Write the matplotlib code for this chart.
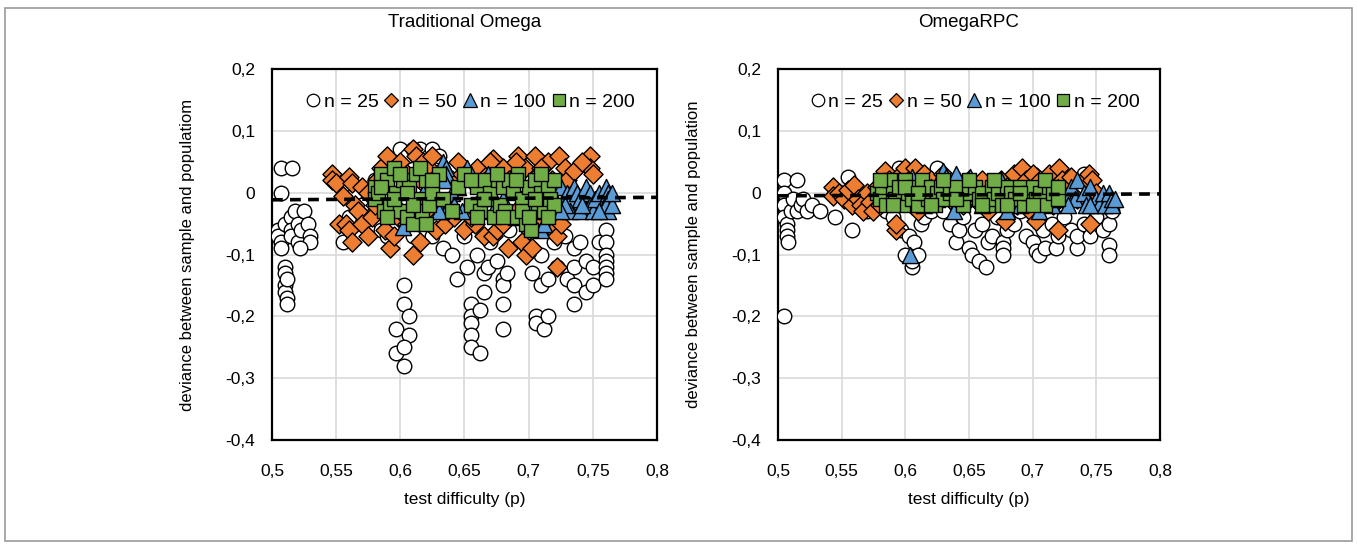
import numpy as np
import matplotlib
matplotlib.use('Agg')
import matplotlib.pyplot as plt
from matplotlib.ticker import FuncFormatter, MultipleLocator
from matplotlib.lines import Line2D
from matplotlib.patches import Rectangle

plt.rcParams['font.family'] = ['Liberation Sans', 'DejaVu Sans']

# ---- Traditional Omega (left) ----
l25_x = [0.507, 0.507, 0.505, 0.505, 0.507, 0.507, 0.51, 0.51, 0.51, 0.51, 0.51, 0.512, 0.512, 0.512,
         0.516, 0.515, 0.515, 0.515, 0.518, 0.52, 0.52, 0.523, 0.525, 0.528, 0.53, 0.53, 0.522,
         0.555, 0.56, 0.565, 0.575, 0.57, 0.58, 0.585, 0.59,
         0.597, 0.597, 0.603, 0.603, 0.607, 0.607, 0.603, 0.603, 0.6, 0.605, 0.61, 0.595, 0.62, 0.615, 0.622, 0.625,
         0.61, 0.625, 0.63,
         0.633, 0.64, 0.644, 0.65, 0.652, 0.655, 0.655, 0.655, 0.655, 0.655, 0.655, 0.66, 0.662, 0.662, 0.665, 0.665, 0.668, 0.67,
         0.675, 0.68, 0.68, 0.68, 0.68, 0.683, 0.685, 0.69,
         0.7, 0.703, 0.706, 0.706, 0.71, 0.712, 0.715, 0.715, 0.71, 0.72, 0.722, 0.718,
         0.728, 0.73, 0.735, 0.735, 0.735, 0.735, 0.74, 0.745, 0.745, 0.75, 0.75, 0.755,
         0.76, 0.76, 0.76, 0.76, 0.76, 0.76, 0.76, 0.755]
l25_y = [0.04, 0.0, -0.06, -0.07, -0.08, -0.09, -0.05, -0.12, -0.13, -0.15, -0.16, -0.17, -0.18, -0.14,
         0.04, -0.04, -0.06, -0.07, -0.03, -0.05, -0.08, -0.06, -0.03, -0.05, -0.07, -0.08, -0.09,
         -0.08, -0.04, 0.0, -0.06, -0.02, 0.02, -0.06, -0.07,
         -0.22, -0.26, -0.15, -0.18, -0.2, -0.23, -0.25, -0.28, 0.07, 0.06, -0.07, -0.05, -0.06, 0.07, 0.06, -0.07,
         0.07, 0.07, 0.06,
         -0.09, -0.1, -0.14, -0.07, -0.12, -0.05, -0.18, -0.2, -0.21, -0.23, -0.25, -0.1, -0.19, -0.26, -0.16, -0.13, -0.12, -0.08,
         -0.11, -0.14, -0.15, -0.18, -0.22, -0.13, -0.06, -0.04,
         -0.05, -0.13, -0.2, -0.21, -0.15, -0.22, -0.2, -0.14, -0.1, -0.08, -0.12, -0.03,
         -0.07, -0.14, -0.18, -0.15, -0.12, -0.09, -0.08, -0.11, -0.16, -0.15, -0.12, -0.08,
         -0.06, -0.08, -0.1, -0.11, -0.12, -0.13, -0.14, -0.03]

l50_x = [0.547, 0.547, 0.55, 0.56, 0.562, 0.555, 0.565, 0.57, 0.572, 0.575, 0.552, 0.558, 0.56, 0.562,
         0.567, 0.57, 0.575, 0.578, 0.58, 0.582, 0.585, 0.59, 0.588, 0.592, 0.595, 0.598, 0.6, 0.605,
         0.605, 0.61, 0.61, 0.612, 0.615, 0.618, 0.62, 0.622, 0.625, 0.628, 0.63, 0.635, 0.64, 0.642,
         0.648, 0.65, 0.655, 0.658, 0.66, 0.665, 0.668, 0.672, 0.672, 0.675, 0.68, 0.684, 0.685, 0.69,
         0.692, 0.695, 0.697, 0.698, 0.703, 0.705, 0.708, 0.71, 0.715, 0.718, 0.72, 0.722, 0.722, 0.724,
         0.728, 0.73, 0.735, 0.74, 0.748, 0.748, 0.75, 0.735, 0.7, 0.66,
         0.6, 0.615, 0.63, 0.645, 0.655, 0.67, 0.68, 0.69, 0.7, 0.71, 0.725, 0.742]
l50_y = [0.03, 0.02, 0.015, 0.025, 0.015, -0.005, -0.02, 0.01, -0.04, 0.0, -0.05, -0.05, -0.06, -0.08,
         -0.03, -0.05, -0.07, -0.04, -0.02, 0.02, 0.04, 0.06, -0.06, -0.09, -0.07, -0.04, 0.05, 0.03,
         -0.05, 0.07, -0.1, 0.06, -0.08, 0.05, -0.03, 0.04, 0.06, -0.06, 0.03, -0.05, 0.02, -0.04,
         0.03, -0.06, 0.02, -0.05, 0.04, -0.07, 0.03, 0.055, -0.07, -0.06, 0.04, -0.09, 0.02, -0.03,
         0.06, -0.08, 0.04, -0.1, -0.09, 0.06, 0.03, -0.04, 0.05, 0.02, -0.06, -0.07, -0.12, 0.06,
         0.04, 0.02, 0.035, -0.02, 0.06, 0.04, 0.03, 0.0, 0.0, -0.02,
         -0.03, 0.02, -0.02, 0.05, -0.04, 0.05, -0.05, 0.05, -0.06, 0.04, -0.05, 0.05]

l100_x = [0.602, 0.61, 0.618, 0.625, 0.633, 0.636, 0.636, 0.634, 0.632, 0.638, 0.645, 0.648, 0.652,
          0.655, 0.66, 0.665, 0.668, 0.672, 0.68, 0.69, 0.7, 0.705, 0.71, 0.712, 0.718, 0.72, 0.725,
          0.73, 0.732, 0.732, 0.735, 0.738, 0.74, 0.74, 0.745, 0.748, 0.748, 0.75, 0.752, 0.755, 0.758,
          0.76, 0.762, 0.762, 0.762, 0.76,
          0.64, 0.642, 0.63, 0.728, 0.742, 0.755, 0.765, 0.765, 0.725]
l100_y = [-0.055, -0.03, 0.0, -0.01, 0.05, 0.04, 0.03, 0.02, -0.03, -0.02, 0.01, -0.03, 0.04,
          0.03, -0.02, 0.02, 0.03, -0.03, -0.01, -0.04, -0.02, -0.03, -0.06, -0.05, 0.0, -0.02, 0.01,
          0.0, -0.01, -0.03, 0.01, 0.0, -0.01, -0.03, 0.01, 0.0, -0.02, -0.03, -0.01, 0.0, -0.02,
          0.01, 0.0, -0.01, -0.03, -0.02,
          0.0, -0.02, -0.03, -0.02, -0.02, -0.03, -0.02, 0.0, -0.03]

l200_x = [0.58, 0.58, 0.583, 0.585, 0.587, 0.59, 0.592, 0.595, 0.597, 0.6, 0.602, 0.605, 0.607, 0.61,
          0.612, 0.615, 0.617, 0.62, 0.622, 0.625, 0.63, 0.633, 0.64, 0.645, 0.65, 0.655, 0.66, 0.662,
          0.665, 0.668, 0.67, 0.673, 0.676, 0.678, 0.68, 0.682, 0.685, 0.688, 0.69, 0.692, 0.695, 0.698,
          0.7, 0.702, 0.705, 0.707, 0.71, 0.712, 0.715, 0.717, 0.72, 0.72,
          0.585, 0.59, 0.595, 0.6, 0.605, 0.61, 0.615, 0.62, 0.625, 0.655, 0.66, 0.665, 0.675, 0.68,
          0.69, 0.695, 0.7, 0.705, 0.71, 0.715]
l200_y = [0.01, -0.01, 0.0, 0.03, -0.03, 0.02, -0.02, 0.04, 0.0, -0.03, 0.02, -0.04, 0.01, -0.05,
          0.03, -0.01, -0.03, 0.02, -0.02, 0.0, 0.03, -0.01, -0.03, 0.01, 0.03, -0.02, 0.01, -0.03,
          0.02, -0.01, 0.0, -0.04, 0.02, -0.02, 0.01, -0.03, 0.02, 0.0, -0.04, 0.03, -0.01, -0.05,
          0.01, -0.06, 0.02, -0.02, 0.0, -0.03, 0.01, -0.01, 0.02, -0.02,
          0.01, -0.04, -0.01, 0.03, 0.0, -0.02, 0.04, -0.05, 0.02, 0.02, -0.04, -0.01, 0.03, -0.04,
          0.02, -0.03, -0.04, -0.01, 0.03, -0.04]

# ---- OmegaRPC (right) ----
r25_x = [0.505, 0.505, 0.505, 0.505, 0.507, 0.507, 0.507, 0.508, 0.505, 0.51, 0.512, 0.515, 0.515, 0.518,
         0.52, 0.523, 0.527, 0.533, 0.545, 0.55, 0.555, 0.558, 0.565, 0.57, 0.58, 0.585, 0.59, 0.595,
         0.597, 0.6, 0.603, 0.605, 0.605, 0.607, 0.61, 0.612, 0.615, 0.62, 0.625, 0.63, 0.635, 0.64,
         0.642, 0.645, 0.65, 0.652, 0.655, 0.658, 0.66, 0.663, 0.665, 0.668, 0.672, 0.677, 0.677, 0.677,
         0.68, 0.685, 0.69, 0.695, 0.7, 0.703, 0.705, 0.708, 0.71, 0.715, 0.718, 0.72, 0.725, 0.73,
         0.735, 0.735, 0.74, 0.745, 0.75, 0.755, 0.76, 0.76, 0.76, 0.762, 0.7, 0.72, 0.74]
r25_y = [0.02, 0.0, -0.02, -0.04, -0.05, -0.06, -0.07, -0.08, -0.2, -0.03, -0.01, 0.02, -0.03, -0.02,
         -0.01, -0.03, -0.02, -0.03, -0.04, 0.0, 0.025, -0.06, -0.02, -0.03, 0.01, -0.03, -0.04, 0.04,
         -0.06, -0.1, -0.07, -0.12, -0.11, -0.08, -0.1, -0.05, -0.04, -0.03, 0.04, -0.03, -0.05, -0.08,
         -0.06, -0.04, -0.09, -0.1, -0.06, -0.11, -0.05, -0.12, -0.08, -0.07, -0.04, -0.08, -0.09, -0.1,
         -0.06, -0.05, -0.03, -0.07, -0.08, -0.095, -0.1, -0.06, -0.09, -0.05, -0.09, -0.07, -0.04, -0.06,
         -0.09, -0.07, -0.05, -0.07, -0.04, -0.06, -0.085, -0.1, -0.05, -0.03, 0.03, 0.03, 0.03]

r50_x = [0.543, 0.543, 0.548, 0.552, 0.555, 0.558, 0.56, 0.563, 0.565, 0.567, 0.57, 0.572, 0.575, 0.578,
         0.58, 0.584, 0.587, 0.59, 0.593, 0.593, 0.597, 0.6, 0.603, 0.605, 0.608, 0.61, 0.615, 0.62,
         0.625, 0.63, 0.635, 0.64, 0.645, 0.65, 0.655, 0.66, 0.665, 0.67, 0.675, 0.678, 0.68, 0.685,
         0.688, 0.692, 0.695, 0.698, 0.7, 0.703, 0.706, 0.71, 0.713, 0.716, 0.72, 0.721, 0.723, 0.727,
         0.73, 0.735, 0.74, 0.744, 0.745, 0.747, 0.75]
r50_y = [0.01, -0.005, 0.0, -0.01, 0.005, -0.02, 0.012, -0.01, -0.02, -0.03, 0.0, -0.015, -0.03, 0.01,
         -0.02, 0.035, 0.02, -0.01, -0.06, -0.05, 0.03, 0.04, 0.02, -0.02, 0.04, -0.03, 0.03, 0.02,
         0.0, 0.03, -0.01, 0.02, -0.02, 0.02, -0.01, 0.02, -0.03, 0.0, 0.02, -0.045, 0.01, 0.03,
         -0.02, 0.04, 0.02, -0.03, 0.03, -0.045, 0.02, 0.0, 0.03, -0.02, -0.06, 0.04, 0.02, 0.01,
         0.025, -0.01, 0.02, 0.03, -0.05, 0.02, 0.0]

r100_x = [0.604, 0.605, 0.61, 0.615, 0.62, 0.625, 0.63, 0.632, 0.635, 0.638, 0.642, 0.645, 0.651, 0.655,
          0.66, 0.665, 0.67, 0.675, 0.68, 0.685, 0.69, 0.7, 0.705, 0.71, 0.715, 0.72, 0.725, 0.73,
          0.733, 0.735, 0.74, 0.742, 0.745, 0.75, 0.752, 0.755, 0.757, 0.76, 0.762, 0.762,
          0.64, 0.72, 0.745, 0.765, 0.728]
r100_y = [-0.1, 0.025, 0.0, -0.02, 0.01, -0.01, 0.035, 0.025, 0.0, -0.03, 0.02, -0.01, 0.025, 0.0,
          -0.02, 0.01, -0.01, 0.02, -0.03, 0.0, -0.02, -0.01, -0.03, 0.0, -0.02, -0.01, 0.0, 0.01,
          -0.01, 0.02, 0.0, -0.02, 0.01, -0.01, -0.02, 0.0, -0.02, 0.0, -0.01, -0.02,
          0.03, 0.01, -0.02, -0.01, -0.02]

r200_x = [0.578, 0.58, 0.582, 0.585, 0.588, 0.59, 0.592, 0.595, 0.598, 0.6, 0.602, 0.605, 0.608, 0.61,
          0.613, 0.615, 0.618, 0.62, 0.623, 0.625, 0.628, 0.63, 0.635, 0.64, 0.645, 0.65, 0.655, 0.658,
          0.66, 0.665, 0.668, 0.67, 0.673, 0.676, 0.68, 0.683, 0.686, 0.69, 0.693, 0.696, 0.7, 0.703,
          0.706, 0.71, 0.713, 0.716, 0.72,
          0.58, 0.59, 0.6, 0.61, 0.62, 0.63, 0.64, 0.65, 0.66, 0.67, 0.68, 0.69, 0.7, 0.71, 0.72]
r200_y = [0.0, -0.01, 0.01, -0.02, 0.02, 0.0, -0.01, 0.01, -0.02, 0.02, 0.0, -0.01, 0.01, -0.02,
          0.02, 0.0, -0.01, 0.01, -0.02, 0.0, 0.01, -0.01, 0.0, 0.01, -0.02, 0.0, 0.01, -0.01,
          0.0, -0.02, 0.01, -0.01, 0.0, -0.02, 0.01, 0.0, -0.01, 0.01, -0.02, 0.0, 0.01, -0.01,
          0.0, -0.02, 0.01, 0.0, -0.01,
          0.02, -0.02, 0.01, 0.0, -0.02, 0.02, -0.01, 0.02, -0.02, 0.02, -0.02, 0.0, -0.02, 0.02, 0.01]

# linear trend (n = 25 series) end values at p = 0.5 and 0.8
trend_x = [0.5, 0.8]
trend_left = [-0.0115, -0.0075]
trend_right = [-0.005, -0.002]

titles = ['Traditional Omega', 'OmegaRPC']
ylabels = ['deviance between sample and populatiom', 'deviance between sample and population']
labels = ['n = 25', 'n = 50', 'n = 100', 'n = 200']
colors = ['white', '#ED7D31', '#5B9BD5', '#70AD47']
markers = ['o', 'D', '^', 's']
sizes = [110, 95, 135, 105]

panels = [
    ([l25_x, l50_x, l100_x, l200_x], [l25_y, l50_y, l100_y, l200_y], trend_left),
    ([r25_x, r50_x, r100_x, r200_x], [r25_y, r50_y, r100_y, r200_y], trend_right),
]


def comma(v, pos):
    s = '%g' % round(v, 2)
    return s.replace('.', ',')


fig = plt.figure(figsize=(13.57, 5.52), dpi=100)
fig.patches.append(Rectangle((0.004, 0.02), 0.992, 0.966, transform=fig.transFigure,
                             fill=False, edgecolor='#9a9a9a', lw=1.2))

axes_pos = [[0.2004, 0.2029, 0.2837, 0.672], [0.5733, 0.2029, 0.2815, 0.672]]

for k, (xs, ys, trend) in enumerate(panels):
    ax = fig.add_axes(axes_pos[k])
    for i in range(4):
        ax.scatter(xs[i], ys[i], s=sizes[i], marker=markers[i], c=colors[i],
                   edgecolors='black', linewidths=1.0, zorder=3 + i)
    ax.plot(trend_x, trend, color='black', ls=(0, (3, 2)), lw=2.6, zorder=10)

    ax.set_xlim(0.5, 0.8)
    ax.set_ylim(-0.4, 0.2)
    ax.xaxis.set_major_locator(MultipleLocator(0.05))
    ax.yaxis.set_major_locator(MultipleLocator(0.1))
    ax.xaxis.set_major_formatter(FuncFormatter(comma))
    ax.yaxis.set_major_formatter(FuncFormatter(comma))
    ax.grid(True, color='#d9d9d9', lw=1.2, zorder=0)
    ax.set_axisbelow(True)
    for sp in ax.spines.values():
        sp.set_color('black')
        sp.set_linewidth(1.6)
    ax.tick_params(length=0, labelsize=12.5)
    ax.tick_params(axis='x', pad=17)
    ax.tick_params(axis='y', pad=12)

    ax.set_title(titles[k], fontsize=13.5, pad=30)
    ax.set_xlabel('test difficulty (p)', fontsize=12.5, labelpad=10)
    ax.set_ylabel(ylabels[k], fontsize=12, labelpad=22)

    handles = [Line2D([], [], ls='none', marker=markers[i], markerfacecolor=colors[i],
                      markeredgecolor='black', markeredgewidth=0.9,
                      markersize=[9, 7.5, 9.5, 8.5][i]) for i in range(4)]
    ax.legend(handles, labels, ncol=4, loc='center', bbox_to_anchor=(0.515, 0.91),
              frameon=False, fontsize=14, handlelength=0.8, handletextpad=0.15,
              columnspacing=0.25, borderaxespad=0)

fig.savefig('out.png', dpi=100)
